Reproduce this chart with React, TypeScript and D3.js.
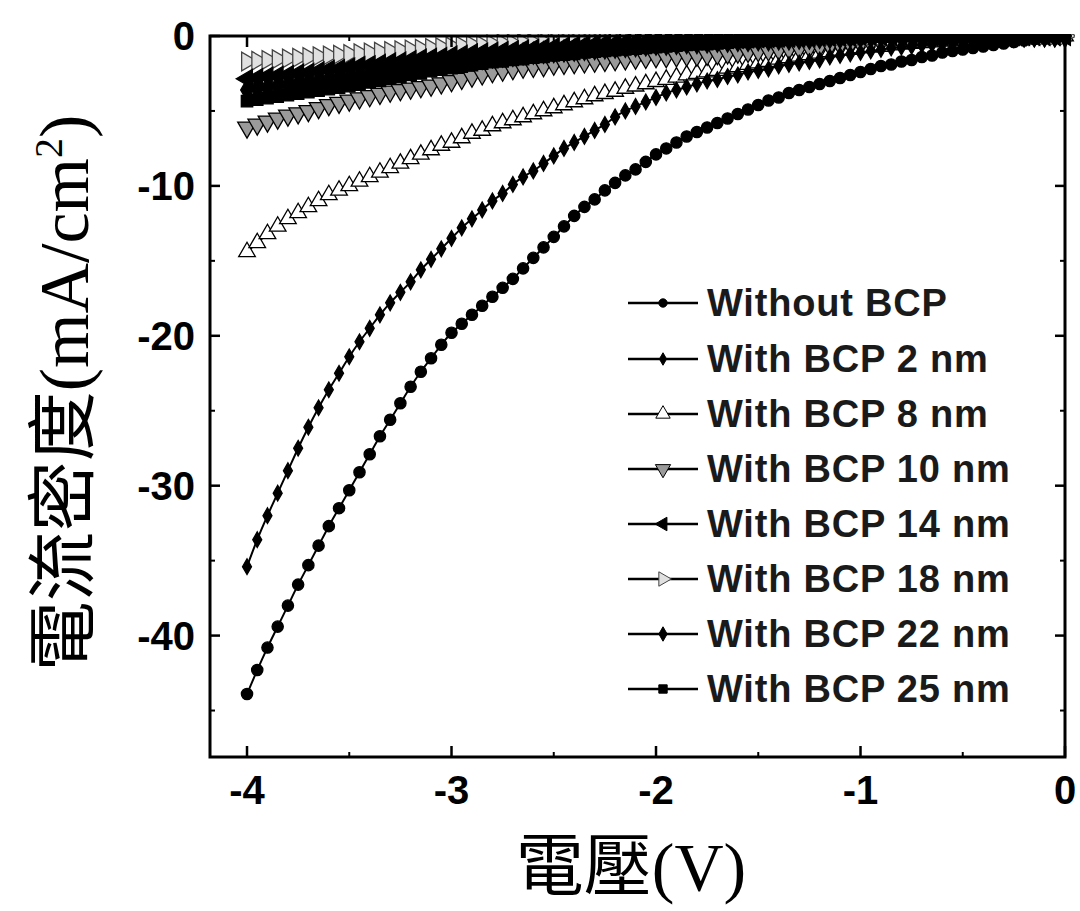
import React from "react";
import * as d3 from "d3";

// Voltage grid (V), step 0.05 from -4 to 0
const voltages: number[] = d3.range(81).map((i) => +(-4 + i * 0.05).toFixed(2));

const seriesNames = [
  "Without BCP",
  "With BCP 2 nm",
  "With BCP 8 nm",
  "With BCP 10 nm",
  "With BCP 14 nm",
  "With BCP 18 nm",
  "With BCP 22 nm",
  "With BCP 25 nm",
];

const withoutBCP = [
  -43.9, -42.3, -40.8, -39.4, -38.0, -36.6, -35.3, -34.0, -32.7, -31.5,
  -30.3, -29.1, -27.9, -26.7, -25.6, -24.5, -23.4, -22.4, -21.5, -20.6,
  -19.8, -19.2, -18.6, -18.0, -17.4, -16.8, -16.2, -15.5, -14.8, -14.1,
  -13.4, -12.7, -12.0, -11.4, -10.9, -10.3, -9.8, -9.3, -8.9, -8.4,
  -7.9, -7.5, -7.1, -6.7, -6.4, -6.1, -5.8, -5.5, -5.2, -4.9,
  -4.6, -4.3, -4.1, -3.8, -3.6, -3.4, -3.2, -3.0, -2.8, -2.6,
  -2.4, -2.2, -2.0, -1.9, -1.7, -1.6, -1.4, -1.3, -1.1, -1.0,
  -0.9, -0.8, -0.7, -0.6, -0.5, -0.4, -0.3, -0.2, -0.15, -0.1,
  0,
];

const bcp2 = [
  -35.4, -33.6, -32.0, -30.5, -29.0, -27.5, -26.1, -24.8, -23.6, -22.5,
  -21.4, -20.4, -19.5, -18.6, -17.8, -17.1, -16.4, -15.6, -14.9, -14.2,
  -13.5, -12.8, -12.2, -11.6, -11.0, -10.5, -9.9, -9.4, -9.0, -8.5,
  -8.0, -7.5, -7.1, -6.7, -6.3, -5.9, -5.4, -5.0, -4.7, -4.4,
  -4.1, -3.8, -3.6, -3.4, -3.2, -3.0, -2.9, -2.7, -2.6, -2.4,
  -2.3, -2.2, -2.0, -1.9, -1.8, -1.7, -1.6, -1.4, -1.3, -1.2,
  -1.1, -1.0, -0.9, -0.8, -0.75, -0.7, -0.6, -0.55, -0.5, -0.45,
  -0.4, -0.35, -0.3, -0.25, -0.2, -0.15, -0.1, -0.1, -0.05, 0,
  0,
];

const bcp8 = [
  -14.4, -13.8, -13.2, -12.7, -12.2, -11.8, -11.4, -11.0, -10.6, -10.3,
  -10.0, -9.7, -9.4, -9.1, -8.8, -8.5, -8.2, -7.9, -7.6, -7.3,
  -7.1, -6.8, -6.5, -6.3, -6.0, -5.8, -5.6, -5.4, -5.2, -5.0,
  -4.8, -4.6, -4.4, -4.2, -4.0, -3.85, -3.7, -3.5, -3.35, -3.2,
  -3.05, -2.9, -2.75, -2.6, -2.5, -2.4, -2.3, -2.15, -2.05, -1.9,
  -1.8, -1.7, -1.55, -1.45, -1.35, -1.25, -1.15, -1.05, -0.95, -0.9,
  -0.8, -0.75, -0.7, -0.6, -0.55, -0.5, -0.45, -0.4, -0.35, -0.3,
  -0.25, -0.2, -0.2, -0.15, -0.1, -0.1, -0.05, -0.05, 0, 0,
  0,
];

const bcp10 = [
  -6.1, -5.9, -5.7, -5.5, -5.3, -5.15, -5.0, -4.8, -4.6, -4.45,
  -4.3, -4.15, -4.0, -3.85, -3.7, -3.6, -3.5, -3.4, -3.3, -3.15,
  -3.0, -2.85, -2.7, -2.55, -2.4, -2.3, -2.2, -2.1, -2.05, -2.0,
  -1.9, -1.85, -1.8, -1.75, -1.7, -1.65, -1.6, -1.55, -1.5, -1.45,
  -1.4, -1.4, -1.35, -1.3, -1.3, -1.25, -1.2, -1.15, -1.1, -1.05,
  -1.0, -0.95, -0.9, -0.85, -0.8, -0.75, -0.7, -0.65, -0.6, -0.55,
  -0.5, -0.45, -0.4, -0.4, -0.35, -0.3, -0.3, -0.25, -0.2, -0.2,
  -0.15, -0.15, -0.1, -0.1, -0.05, -0.05, 0, 0, 0, 0,
  0,
];

const bcp14 = [
  -2.85, -2.8, -2.7, -2.65, -2.6, -2.5, -2.45, -2.35, -2.25, -2.2,
  -2.1, -2.0, -1.95, -1.85, -1.75, -1.7, -1.6, -1.5, -1.45, -1.4,
  -1.3, -1.25, -1.15, -1.1, -1.05, -1.0, -0.95, -0.9, -0.85, -0.8,
  -0.75, -0.7, -0.65, -0.6, -0.55, -0.5, -0.5, -0.45, -0.4, -0.4,
  -0.35, -0.35, -0.3, -0.3, -0.25, -0.25, -0.2, -0.2, -0.2, -0.15,
  -0.15, -0.15, -0.1, -0.1, -0.1, -0.1, -0.05, -0.05, -0.05, -0.05,
  0, 0, 0, 0, 0, 0, 0, 0, 0, 0,
  0, 0, 0, 0, 0, 0, 0, 0, 0, 0,
  0,
];

const bcp18 = [
  -1.7, -1.65, -1.6, -1.55, -1.5, -1.45, -1.4, -1.35, -1.3, -1.25,
  -1.2, -1.15, -1.1, -1.05, -1.0, -0.95, -0.9, -0.85, -0.8, -0.75,
  -0.7, -0.65, -0.6, -0.6, -0.55, -0.5, -0.5, -0.45, -0.45, -0.4,
  -0.4, -0.35, -0.35, -0.3, -0.3, -0.3, -0.25, -0.25, -0.25, -0.2,
  -0.2, -0.2, -0.2, -0.2, -0.15, -0.15, -0.15, -0.15, -0.15, -0.1,
  -0.1, -0.1, -0.1, -0.1, -0.1, -0.05, -0.05, -0.05, -0.05, -0.05,
  -0.05, -0.05, -0.05, -0.05, -0.05, 0, 0, 0, 0, 0,
  0, 0, 0, 0, 0, 0, 0, 0, 0, 0,
  0,
];

const bcp22 = [
  -3.6, -3.5, -3.45, -3.35, -3.25, -3.2, -3.1, -3.0, -2.9, -2.8,
  -2.7, -2.6, -2.5, -2.4, -2.3, -2.2, -2.1, -2.0, -1.9, -1.8,
  -1.7, -1.65, -1.55, -1.5, -1.4, -1.35, -1.3, -1.2, -1.15, -1.1,
  -1.05, -1.0, -0.95, -0.9, -0.85, -0.8, -0.75, -0.7, -0.65, -0.6,
  -0.55, -0.55, -0.5, -0.45, -0.45, -0.4, -0.35, -0.35, -0.3, -0.3,
  -0.25, -0.25, -0.2, -0.2, -0.15, -0.15, -0.1, -0.1, -0.1, -0.05,
  -0.05, -0.05, 0, 0, 0, 0, 0, 0, 0, 0,
  0, 0, 0, 0, 0, 0, 0, 0, 0, 0,
  0,
];

const bcp25 = [
  -4.35, -4.25, -4.15, -4.05, -3.95, -3.85, -3.75, -3.65, -3.55, -3.45,
  -3.35, -3.25, -3.1, -3.0, -2.85, -2.75, -2.6, -2.5, -2.35, -2.25,
  -2.15, -2.05, -1.95, -1.85, -1.75, -1.7, -1.6, -1.55, -1.45, -1.4,
  -1.3, -1.25, -1.2, -1.1, -1.05, -1.0, -0.95, -0.9, -0.85, -0.8,
  -0.75, -0.7, -0.65, -0.6, -0.55, -0.55, -0.5, -0.45, -0.4, -0.4,
  -0.35, -0.3, -0.3, -0.25, -0.2, -0.2, -0.15, -0.15, -0.1, -0.1,
  -0.1, -0.05, -0.05, -0.05, 0, 0, 0, 0, 0, 0,
  0, 0, 0, 0, 0, 0, 0, 0, 0, 0,
  0,
];

const xTicks = [-4, -3, -2, -1, 0];
const yTicks = [0, -10, -20, -30, -40];

type Style = {
  type: d3.SymbolType;
  size: number;
  legendSize: number;
  rotate: number;
  fill: string;
  stroke: string;
};

const styles: Style[] = [
  { type: d3.symbolCircle, size: 100, legendSize: 55, rotate: 0, fill: "#000", stroke: "#000" },
  { type: d3.symbolDiamond, size: 70, legendSize: 45, rotate: 0, fill: "#000", stroke: "#000" },
  { type: d3.symbolTriangle, size: 120, legendSize: 90, rotate: 0, fill: "#fff", stroke: "#000" },
  { type: d3.symbolTriangle, size: 150, legendSize: 100, rotate: 180, fill: "#9a9a9a", stroke: "#000" },
  { type: d3.symbolTriangle, size: 150, legendSize: 80, rotate: -90, fill: "#000", stroke: "#000" },
  { type: d3.symbolTriangle, size: 150, legendSize: 90, rotate: 90, fill: "#e0e0e0", stroke: "#444" },
  { type: d3.symbolDiamond, size: 140, legendSize: 60, rotate: 0, fill: "#000", stroke: "#000" },
  { type: d3.symbolSquare, size: 130, legendSize: 70, rotate: 0, fill: "#000", stroke: "#000" },
];

const seriesValues = [withoutBCP, bcp2, bcp8, bcp10, bcp14, bcp18, bcp22, bcp25];
const drawOrder = [2, 3, 5, 4, 6, 7, 1, 0];

const W = 1080;
const H = 911;
const left = 210;
const right = 1065;
const top = 36;
const bottom = 757;

export default function App() {
  const x = d3.scaleLinear().domain([-4.181, 0]).range([left, right]);
  const y = d3.scaleLinear().domain([0, -48.1]).range([top, bottom]);
  const line = d3
    .line<[number, number]>()
    .x((d) => x(d[0]))
    .y((d) => y(d[1]))
    .curve(d3.curveMonotoneX);

  const xMinor = d3.range(-4, 0.001, 0.5).filter((v) => !xTicks.includes(v));
  const yMinor = d3.range(0, -46, -5).filter((v) => !yTicks.includes(v));

  const legendY = [303, 359, 414, 469, 524, 579, 634, 689];
  const tickFont = "'Liberation Sans', Arial, sans-serif";

  return (
    <svg
      width={W}
      height={H}
      style={{ position: "absolute", left: 0, top: 0, background: "#fff" }}
    >
      <rect x={0} y={0} width={W} height={H} fill="#fff" />
      <defs>
        <clipPath id="plotClip">
          <rect x={left} y={top - 2} width={right - left + 10} height={bottom - top + 2} />
        </clipPath>
      </defs>

      {/* series */}
      <g clipPath="url(#plotClip)">
        {drawOrder.map((si) => {
          const vals = seriesValues[si];
          const pts: [number, number][] = voltages.map((v, i) => [v, vals[i]]);
          const st = styles[si];
          const sym = d3.symbol().type(st.type).size(st.size)();
          return (
            <g key={si}>
              <path d={line(pts) || ""} fill="none" stroke="#000" strokeWidth={2} />
              {pts.map((p, i) => (
                <path
                  key={i}
                  d={sym || ""}
                  transform={`translate(${x(p[0])},${y(p[1])}) rotate(${st.rotate})`}
                  fill={st.fill}
                  stroke={st.stroke}
                  strokeWidth={1.3}
                />
              ))}
            </g>
          );
        })}
      </g>

      {/* frame */}
      <rect
        x={left}
        y={top}
        width={right - left}
        height={bottom - top}
        fill="none"
        stroke="#000"
        strokeWidth={3}
      />

      {/* x ticks */}
      {xTicks.map((t) => (
        <g key={"xt" + t}>
          <line x1={x(t)} x2={x(t)} y1={bottom} y2={bottom - 11} stroke="#000" strokeWidth={2.5} />
          <line x1={x(t)} x2={x(t)} y1={top} y2={top + 11} stroke="#000" strokeWidth={2.5} />
          <text
            x={x(t)}
            y={804}
            textAnchor="middle"
            fontFamily={tickFont}
            fontWeight="bold"
            fontSize={40}
            fill="#000"
          >
            {String(t)}
          </text>
        </g>
      ))}
      {xMinor.map((t) => (
        <g key={"xm" + t}>
          <line x1={x(t)} x2={x(t)} y1={bottom} y2={bottom - 5} stroke="#000" strokeWidth={2} />
          <line x1={x(t)} x2={x(t)} y1={top} y2={top + 5} stroke="#000" strokeWidth={2} />
        </g>
      ))}

      {/* y ticks */}
      {yTicks.map((t) => (
        <g key={"yt" + t}>
          <line x1={left} x2={left + 10} y1={y(t)} y2={y(t)} stroke="#000" strokeWidth={2.5} />
          <line x1={right} x2={right - 10} y1={y(t)} y2={y(t)} stroke="#000" strokeWidth={2.5} />
          <text
            x={195}
            y={y(t) + 14}
            textAnchor="end"
            fontFamily={tickFont}
            fontWeight="bold"
            fontSize={40}
            fill="#000"
          >
            {String(t)}
          </text>
        </g>
      ))}
      {yMinor.map((t) => (
        <g key={"ym" + t}>
          <line x1={left} x2={left + 5} y1={y(t)} y2={y(t)} stroke="#000" strokeWidth={2} />
          <line x1={right} x2={right - 5} y1={y(t)} y2={y(t)} stroke="#000" strokeWidth={2} />
        </g>
      ))}

      {/* legend */}
      {seriesNames.map((name, si) => {
        const st = styles[si];
        const sym = d3.symbol().type(st.type).size(st.legendSize)();
        const ly = legendY[si];
        return (
          <g key={"lg" + si}>
            <line x1={628} x2={698} y1={ly} y2={ly} stroke="#000" strokeWidth={2.5} />
            <path
              d={sym || ""}
              transform={`translate(663,${ly}) rotate(${st.rotate})`}
              fill={st.fill}
              stroke={st.stroke}
              strokeWidth={1}
            />
            <text
              x={707}
              y={ly + 13}
              fontFamily={tickFont}
              fontWeight="bold"
              fontSize={38}
              letterSpacing={0.8}
              fill="#1a1a1a"
            >
              {name}
            </text>
          </g>
        );
      })}

      {/* axis titles */}
      <text x={631} y={890} textAnchor="middle" fontSize={68} fill="#000">
        <tspan fontFamily="'Noto Sans CJK TC', sans-serif">電壓</tspan>
        <tspan fontFamily="'Liberation Serif', serif">(V)</tspan>
      </text>
      <text
        transform="translate(88,393) rotate(-90)"
        textAnchor="middle"
        fontSize={70}
        fill="#000"
      >
        <tspan fontFamily="'Noto Sans CJK TC', sans-serif">電流密度</tspan>
        <tspan fontFamily="'Liberation Serif', serif">(mA/cm</tspan>
        <tspan fontFamily="'Liberation Serif', serif" fontSize={40} dy={-26}>2</tspan>
        <tspan fontFamily="'Liberation Serif', serif" dy={26}>)</tspan>
      </text>
    </svg>
  );
}
